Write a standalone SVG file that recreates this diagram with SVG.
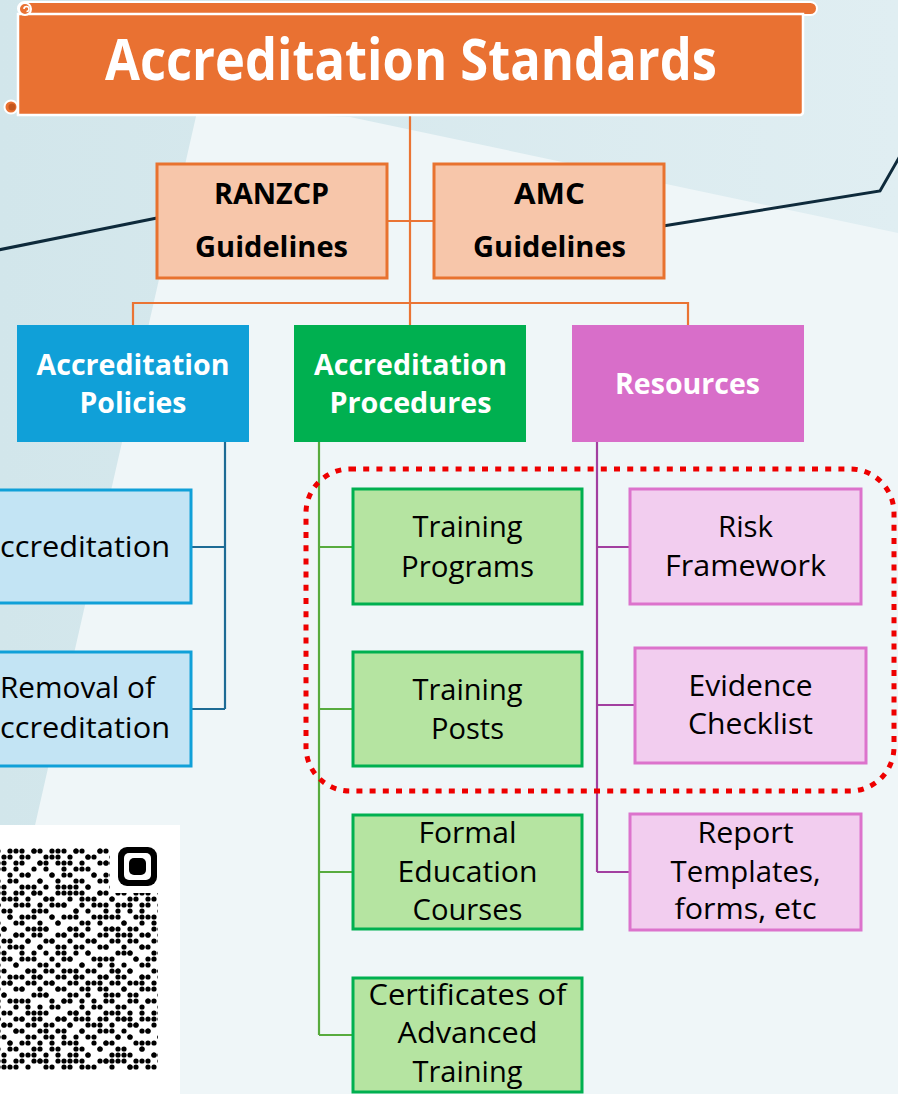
<svg xmlns="http://www.w3.org/2000/svg" width="898" height="1094" viewBox="0 0 898 1094">
  <style>
    .b { font-family: "Open Sans", "Liberation Sans", sans-serif; font-weight: 700; font-size: 29px; }
    .t { font-family: "Open Sans", "Liberation Sans", sans-serif; font-weight: 700; font-size: 57px; }
    .r { font-family: "Open Sans", "Liberation Sans", sans-serif; font-weight: 400; font-size: 29px; fill: #000; }
    .w { fill: #ffffff; }
    .k { fill: #000000; }
    .or { fill: #f7c6aa; stroke: #e8722f; stroke-width: 3; }
    .lb { fill: #c3e4f4; stroke: #10a0d8; stroke-width: 3; }
    .lg { fill: #b5e4a1; stroke: #00b050; stroke-width: 3; }
    .lp { fill: #f2cdef; stroke: #dc73cc; stroke-width: 3; }
    .c-or { stroke: #ea7434; stroke-width: 2.2; fill: none; }
    .c-nv { stroke: #0e2a3b; stroke-width: 3; fill: none; }
    .c-bl { stroke: #1d6b95; stroke-width: 2.2; fill: none; }
    .c-gr { stroke: #58ab3e; stroke-width: 2.2; fill: none; }
    .c-pu { stroke: #a23fa0; stroke-width: 2.2; fill: none; }
  </style>
  <defs>
    <linearGradient id="bgDark" x1="0" y1="0" x2="1" y2="0">
      <stop offset="0" stop-color="#d2e6eb"/>
      <stop offset="1" stop-color="#e0eef2"/>
    </linearGradient>
    <!-- two overlapping dot tiles on a 6px module grid -->
    <pattern id="qrA" patternUnits="userSpaceOnUse" x="-65" y="848" width="42" height="42">
      <g fill="#000">
        <circle cx="3" cy="3" r="2.6"/><circle cx="15" cy="3" r="2.6"/><circle cx="21" cy="3" r="2.6"/><circle cx="39" cy="3" r="2.6"/>
        <circle cx="9" cy="9" r="2.6"/><circle cx="27" cy="9" r="2.6"/><circle cx="33" cy="9" r="2.6"/>
        <circle cx="3" cy="15" r="2.6"/><circle cx="21" cy="15" r="2.6"/><circle cx="39" cy="15" r="2.6"/>
        <circle cx="15" cy="21" r="2.6"/><circle cx="27" cy="21" r="2.6"/>
        <circle cx="3" cy="27" r="2.6"/><circle cx="9" cy="27" r="2.6"/><circle cx="33" cy="27" r="2.6"/>
        <circle cx="21" cy="33" r="2.6"/><circle cx="39" cy="33" r="2.6"/>
        <circle cx="9" cy="39" r="2.6"/><circle cx="15" cy="39" r="2.6"/><circle cx="27" cy="39" r="2.6"/>
      </g>
    </pattern>
    <pattern id="qrB" patternUnits="userSpaceOnUse" x="-65" y="848" width="66" height="66">
      <g fill="#000">
        <circle cx="9" cy="3" r="2.6"/><circle cx="33" cy="3" r="2.6"/><circle cx="51" cy="3" r="2.6"/>
        <circle cx="21" cy="9" r="2.6"/><circle cx="57" cy="9" r="2.6"/>
        <circle cx="3" cy="15" r="2.6"/><circle cx="39" cy="15" r="2.6"/><circle cx="45" cy="15" r="2.6"/>
        <circle cx="15" cy="21" r="2.6"/><circle cx="63" cy="21" r="2.6"/>
        <circle cx="27" cy="27" r="2.6"/><circle cx="51" cy="27" r="2.6"/>
        <circle cx="9" cy="33" r="2.6"/><circle cx="39" cy="33" r="2.6"/>
        <circle cx="21" cy="39" r="2.6"/><circle cx="57" cy="39" r="2.6"/><circle cx="63" cy="39" r="2.6"/>
        <circle cx="3" cy="45" r="2.6"/><circle cx="33" cy="45" r="2.6"/>
        <circle cx="15" cy="51" r="2.6"/><circle cx="45" cy="51" r="2.6"/>
        <circle cx="27" cy="57" r="2.6"/><circle cx="51" cy="57" r="2.6"/><circle cx="63" cy="57" r="2.6"/>
        <circle cx="9" cy="63" r="2.6"/><circle cx="39" cy="63" r="2.6"/>
      </g>
    </pattern>
  </defs>

  <!-- background: tinted field with a lighter diagonal panel -->
  <rect x="0" y="0" width="898" height="1094" fill="url(#bgDark)"/>
  <polygon points="197,112 350,117 898,233 898,1094 -26,1094" fill="#eff6f8"/>

  <!-- connectors -->
  <g id="connectors">
    <path class="c-or" d="M410,115 V325 M387,221 H433 M133,325 V303 H688 V325"/>
    <polyline class="c-nv" points="157,218 -2,250"/>
    <polyline class="c-nv" points="663,226 880,191 900,156"/>
    <path class="c-bl" d="M225,442 V709 M191,547 H225 M191,709 H225"/>
    <path class="c-gr" d="M319,442 V1035 M319,547 H353 M319,709 H353 M319,872 H353 M319,1035 H353"/>
    <path class="c-pu" d="M597,442 V872 M597,547 H630 M597,705 H635 M597,872 H630"/>
  </g>

  <!-- title scroll -->
  <g id="title">
    <rect x="18" y="2" width="799" height="13" rx="6.5" fill="#e97132" stroke="#ffffff" stroke-width="2"/>
    <path d="M18,14 H803 V112 a3,3 0 0 1 -3,3 H18 Z" fill="#e97132" stroke="#ffffff" stroke-width="2.5"/>
    <circle cx="25" cy="9" r="6" fill="#e97132" stroke="#ffffff" stroke-width="2"/>
    <path d="M24,9 a2.5,2.5 0 0 1 5,0 a2.5,2.5 0 0 1 -2.5,2.5" fill="none" stroke="#ffffff" stroke-width="1.6"/>
    <circle cx="11" cy="107" r="6.5" fill="#e97132" stroke="#ffffff" stroke-width="2"/>
    <circle cx="12" cy="107" r="3.5" fill="#c4561c"/>
    <text class="t w" x="411" y="80" text-anchor="middle" textLength="612" lengthAdjust="spacingAndGlyphs">Accreditation Standards</text>
  </g>

  <!-- guideline nodes -->
  <g id="ranzcp">
    <rect class="or" x="157" y="164" width="230" height="114"/>
    <text class="b k" x="271.5" y="204" text-anchor="middle" textLength="115" lengthAdjust="spacingAndGlyphs">RANZCP</text>
    <text class="b k" x="271.5" y="257" text-anchor="middle" textLength="153" lengthAdjust="spacingAndGlyphs">Guidelines</text>
  </g>
  <g id="amc">
    <rect class="or" x="434" y="164" width="230" height="114"/>
    <text class="b k" x="549.5" y="204" text-anchor="middle" textLength="71" lengthAdjust="spacingAndGlyphs">AMC</text>
    <text class="b k" x="549.5" y="257" text-anchor="middle" textLength="153" lengthAdjust="spacingAndGlyphs">Guidelines</text>
  </g>

  <!-- category nodes -->
  <g id="policies">
    <rect x="17" y="325" width="232" height="117" fill="#10a0d8"/>
    <text class="b w" x="133" y="375" text-anchor="middle" textLength="193" lengthAdjust="spacingAndGlyphs">Accreditation</text>
    <text class="b w" x="133" y="413" text-anchor="middle" textLength="107" lengthAdjust="spacingAndGlyphs">Policies</text>
  </g>
  <g id="procedures">
    <rect x="294" y="325" width="232" height="117" fill="#00b050"/>
    <text class="b w" x="410.5" y="375" text-anchor="middle" textLength="193" lengthAdjust="spacingAndGlyphs">Accreditation</text>
    <text class="b w" x="410.5" y="413" text-anchor="middle" textLength="162" lengthAdjust="spacingAndGlyphs">Procedures</text>
  </g>
  <g id="resources">
    <rect x="572" y="325" width="232" height="117" fill="#d86ec9"/>
    <text class="b w" x="687.5" y="394" text-anchor="middle" textLength="145" lengthAdjust="spacingAndGlyphs">Resources</text>
  </g>

  <!-- policy items -->
  <g id="policy-accreditation">
    <rect class="lb" x="-10" y="490" width="201" height="113"/>
    <text class="r" x="170" y="557" text-anchor="end" textLength="170" lengthAdjust="spacingAndGlyphs">ccreditation</text>
  </g>
  <g id="policy-removal">
    <rect class="lb" x="-10" y="652" width="201" height="114"/>
    <text class="r" x="0" y="698" textLength="155" lengthAdjust="spacingAndGlyphs">Removal of</text>
    <text class="r" x="170" y="738" text-anchor="end" textLength="170" lengthAdjust="spacingAndGlyphs">ccreditation</text>
  </g>

  <!-- procedure items -->
  <g id="training-programs">
    <rect class="lg" x="353" y="489" width="229" height="115"/>
    <text class="r" x="467.5" y="537" text-anchor="middle" textLength="110" lengthAdjust="spacingAndGlyphs">Training</text>
    <text class="r" x="467.5" y="577" text-anchor="middle" textLength="133" lengthAdjust="spacingAndGlyphs">Programs</text>
  </g>
  <g id="training-posts">
    <rect class="lg" x="353" y="652" width="229" height="114"/>
    <text class="r" x="467.5" y="700" text-anchor="middle" textLength="110" lengthAdjust="spacingAndGlyphs">Training</text>
    <text class="r" x="467.5" y="739" text-anchor="middle" textLength="73" lengthAdjust="spacingAndGlyphs">Posts</text>
  </g>
  <g id="formal-education">
    <rect class="lg" x="353" y="815" width="229" height="114"/>
    <text class="r" x="467.5" y="843" text-anchor="middle" textLength="98" lengthAdjust="spacingAndGlyphs">Formal</text>
    <text class="r" x="467.5" y="882" text-anchor="middle" textLength="140" lengthAdjust="spacingAndGlyphs">Education</text>
    <text class="r" x="467.5" y="920" text-anchor="middle" textLength="110" lengthAdjust="spacingAndGlyphs">Courses</text>
  </g>
  <g id="advanced-training">
    <rect class="lg" x="353" y="978" width="229" height="114"/>
    <text class="r" x="467.5" y="1005" text-anchor="middle" textLength="198" lengthAdjust="spacingAndGlyphs">Certificates of</text>
    <text class="r" x="467.5" y="1043" text-anchor="middle" textLength="140" lengthAdjust="spacingAndGlyphs">Advanced</text>
    <text class="r" x="467.5" y="1082" text-anchor="middle" textLength="110" lengthAdjust="spacingAndGlyphs">Training</text>
  </g>

  <!-- resource items -->
  <g id="risk-framework">
    <rect class="lp" x="630" y="489" width="231" height="115"/>
    <text class="r" x="745.5" y="537" text-anchor="middle" textLength="55" lengthAdjust="spacingAndGlyphs">Risk</text>
    <text class="r" x="745.5" y="576" text-anchor="middle" textLength="161" lengthAdjust="spacingAndGlyphs">Framework</text>
  </g>
  <g id="evidence-checklist">
    <rect class="lp" x="635" y="648" width="231" height="115"/>
    <text class="r" x="750.5" y="696" text-anchor="middle" textLength="124" lengthAdjust="spacingAndGlyphs">Evidence</text>
    <text class="r" x="750.5" y="734" text-anchor="middle" textLength="125" lengthAdjust="spacingAndGlyphs">Checklist</text>
  </g>
  <g id="report-templates">
    <rect class="lp" x="630" y="814" width="231" height="116"/>
    <text class="r" x="745.5" y="843" text-anchor="middle" textLength="96" lengthAdjust="spacingAndGlyphs">Report</text>
    <text class="r" x="745.5" y="882" text-anchor="middle" textLength="150" lengthAdjust="spacingAndGlyphs">Templates,</text>
    <text class="r" x="745.5" y="919" text-anchor="middle" textLength="142" lengthAdjust="spacingAndGlyphs">forms, etc</text>
  </g>

  <!-- dotted highlight around the core items -->
  <g id="highlight">
    <rect x="306" y="469" width="588" height="322" rx="44" fill="none" stroke="#ee0000" stroke-width="5" stroke-dasharray="6 7.2"/>
  </g>

  <!-- QR code -->
  <g id="qr-code">
    <rect x="0" y="825" width="180" height="269" fill="#ffffff"/>
    <rect x="0" y="848" width="158" height="222" fill="url(#qrA)"/>
    <rect x="0" y="848" width="158" height="222" fill="url(#qrB)"/>
    <rect x="110" y="842" width="50" height="51" fill="#ffffff"/>
    <rect x="118" y="847" width="39" height="39" rx="9" fill="#000000"/>
    <rect x="124" y="853" width="27" height="27" rx="5" fill="#ffffff"/>
    <rect x="129" y="858" width="17" height="17" rx="5" fill="#000000"/>
  </g>
</svg>
